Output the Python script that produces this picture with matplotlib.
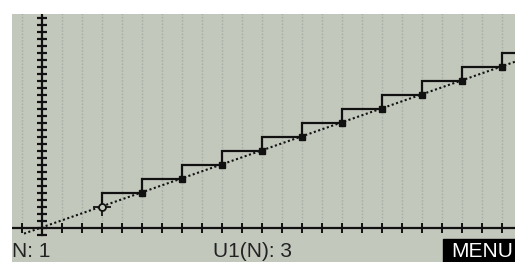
import numpy as np
import matplotlib.pyplot as plt
from matplotlib.patches import Rectangle

# sequence U1(N) = U1(N-1) + 2, stairstep view (x: U(N-1), y: U(N))
u_vals = [3, 5, 7, 9, 11, 13, 15, 17, 19, 21, 23, 25]
n_shown = 11          # points drawn on the diagonal
x_ticks = list(range(-1, 24))
y_ticks = list(range(-1, 31))
status_n = "N: 1"
status_u = "U1(N): 3"
menu_label = "MENU"

bg = '#c3c8bd'
W, H = 515, 262

fig = plt.figure(figsize=(W / 100, H / 100), dpi=100)
fig.patch.set_facecolor('white')

# gray screen area starts at x=12px, y=14px from top
ax = fig.add_axes([12 / W, 0, (W - 12) / W, (H - 14) / H])
ax.set_facecolor(bg)
ax.set_xlim(-1.5, 23.65)
ax.set_ylim(-4.857, 30.571)
ax.set_xticks([])
ax.set_yticks([])
for s in ax.spines.values():
    s.set_visible(False)

# dotted vertical grid
ax.vlines([x for x in x_ticks if x != 0], 0, 31, colors='#a8ada5',
          linestyles=(0, (1.2, 1.2)), linewidth=1.0, zorder=1)

# axes lines
ax.plot([-1.5, 24], [0, 0], color='#111111', lw=1.6, zorder=3)
ax.plot([0, 0], [-1, 31], color='#111111', lw=1.6, zorder=3)
ax.plot(x_ticks, [0] * len(x_ticks), ls='none', marker='|', ms=7.5,
        mew=1.4, color='#111111', zorder=3)
ax.plot([0] * len(y_ticks), y_ticks, ls='none', marker='_', ms=7.5,
        mew=1.6, color='#111111', zorder=3)

# diagonal y = x (dotted)
ax.plot([-0.9, 24], [-0.8, 24.1], color='#111111', lw=1.5,
        linestyle=(0, (1, 1.2)), zorder=4)

# stairstep
rep = np.repeat(u_vals, 2)
ax.plot(rep[:-1], rep[1:], color='#111111', lw=1.6, zorder=5,
        solid_joinstyle='miter')

pts = u_vals[:n_shown]
ax.plot(pts[1:], pts[1:], ls='none', marker='s', ms=4.5,
        color='#111111', zorder=6)
# cursor on first point
ax.plot(pts[0], pts[0], marker='o', ms=5, mfc=bg, mec='#111111',
        mew=1.3, zorder=7)
ax.plot(pts[0], pts[0], marker='+', ms=13, mew=1.3,
        color='#111111', zorder=6)

# status line
font = ['Liberation Sans', 'DejaVu Sans']
base = 5 / H
fig.text(12 / W, base, status_n, family=font, fontsize=15,
         color='#222222', va='baseline', ha='left')
fig.text(213 / W, base, status_u, family=font, fontsize=15,
         color='#222222', va='baseline', ha='left')
fig.patches.append(Rectangle((443 / W, 0), (W - 443) / W, 23 / H,
                             transform=fig.transFigure, color='black',
                             zorder=5))
fig.text(451 / W, base, menu_label, family=font, fontsize=15,
         color='white', va='baseline', ha='left', zorder=6)

fig.savefig('out.png', dpi=100, facecolor='white')
